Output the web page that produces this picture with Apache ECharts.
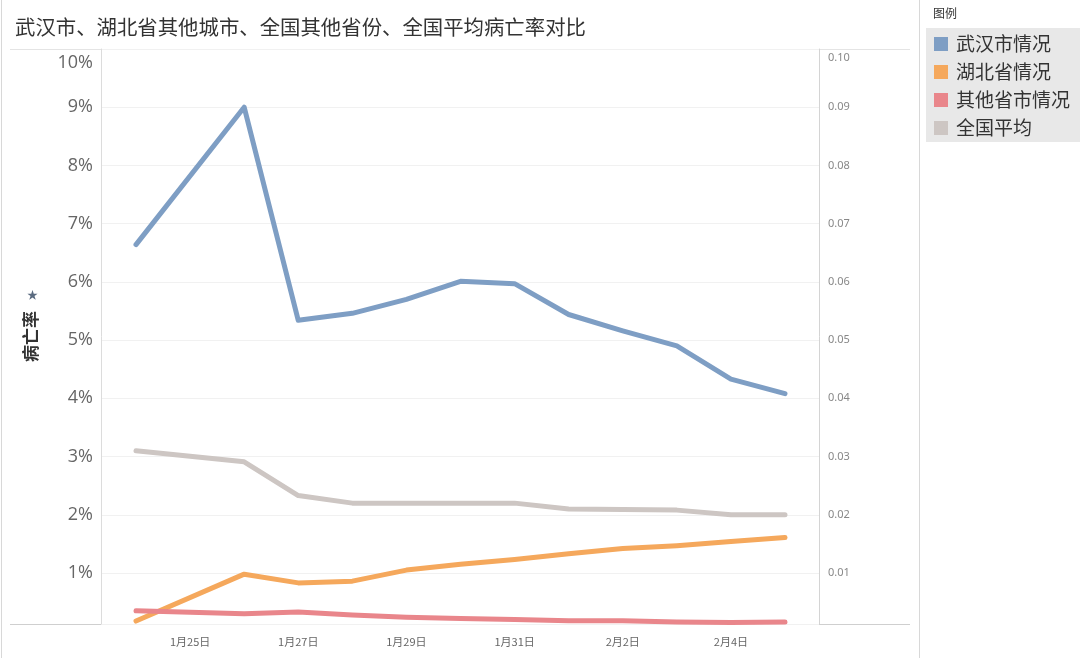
<!DOCTYPE html>
<html>
<head>
<meta charset="utf-8">
<script src="https://cdn.jsdelivr.net/npm/echarts@6/dist/echarts.min.js"></script>
<style>
  html, body { margin: 0; padding: 0; background: #fff; }
  #chart { width: 1080px; height: 658px; }
</style>
</head>
<body>
<div id="chart"></div>
<script>
// dates 1/24 .. 2/5 (1/25 has no value in the source, line jumps over it)
const dates = ['1月24日', '1月25日', '1月26日', '1月27日', '1月28日', '1月29日', '1月30日',
  '1月31日', '2月1日', '2月2日', '2月3日', '2月4日', '2月5日']

const wuhan = [0.0664, null, 0.0900, 0.0534, 0.0546, 0.0570, 0.0601, 0.0597, 0.0544, 0.0516, 0.0490, 0.0433, 0.0408]
const hubei = [0.00175, null, 0.0098, 0.0083, 0.0086, 0.0105, 0.0115, 0.0123, 0.0133, 0.0142, 0.0147, 0.0154, 0.0161]
const others = [0.0035, null, 0.0030, 0.0033, 0.0028, 0.0024, 0.0022, 0.0020, 0.0018, 0.0018, 0.0016, 0.0015, 0.0016]
const national = [0.0310, null, 0.0291, 0.0233, 0.0220, 0.0220, 0.0220, 0.0220, 0.0210, 0.0209, 0.0208, 0.0200, 0.0200]

const seriesNames = ['武汉市情况', '湖北省情况', '其他省市情况', '全国平均']
const colors = ['#7e9ec4', '#f5a85c', '#e9868b', '#cdc6c3']

const yMin = 0.00124
const yMax = 0.1

const font = '"Noto Sans CJK SC", "Noto Sans", sans-serif'

function makeLine(name, data, color) {
  return {
    name: name,
    type: 'line',
    data: data,
    xAxisIndex: 1,
    yAxisIndex: 2,
    connectNulls: true,
    showSymbol: false,
    clip: false,
    color: color,
    lineStyle: { width: 5, color: color, cap: 'round', join: 'round' }
  }
}

var chartDom = document.getElementById('chart')
var myChart = echarts.init(chartDom)
var option = {
  animation: false,
  color: colors,
  title: {
    text: '武汉市、湖北省其他城市、全国其他省份、全国平均病亡率对比',
    left: 10,
    top: 12,
    textStyle: { fontFamily: font, fontSize: 20.4, fontWeight: 'normal', color: '#333' }
  },
  legend: {
    orient: 'vertical',
    left: 926,
    top: 28,
    padding: [6, 30, 4, 8],
    backgroundColor: '#e8e8e8',
    icon: 'rect',
    itemWidth: 14,
    itemHeight: 14,
    itemGap: 8,
    data: seriesNames,
    textStyle: { fontFamily: font, fontSize: 19, color: '#333', lineHeight: 20, padding: [0, 0, 0, 3] }
  },
  grid: [
    { left: 101, right: 261, top: 49, bottom: 34 },
    { left: 136, right: 295, top: 49, bottom: 34 }
  ],
  xAxis: [
    { type: 'category', gridIndex: 0, data: dates, show: false },
    {
      type: 'category',
      gridIndex: 1,
      data: dates,
      boundaryGap: false,
      axisLine: { show: false },
      axisTick: { show: false },
      axisLabel: {
        interval: (idx) => idx % 2 === 1,
        margin: 12,
        fontFamily: font,
        fontSize: 11,
        color: '#666'
      }
    }
  ],
  yAxis: [
    {
      type: 'value',
      gridIndex: 0,
      position: 'left',
      min: yMin,
      max: yMax,
      splitNumber: 10,
      name: '病亡率',
      nameLocation: 'middle',
      nameRotate: 90,
      nameGap: 62,
      nameTextStyle: { fontFamily: font, fontSize: 17, fontWeight: 'bold', color: '#333' },
      axisLine: { show: true, lineStyle: { color: '#dcdcdc' } },
      axisTick: { show: false },
      splitLine: { show: true, lineStyle: { color: '#f1f1f1' } },
      axisLabel: {
        showMinLabel: false,
        verticalAlignMaxLabel: 'top',
        margin: 8,
        fontFamily: '"Open Sans", "Noto Sans", sans-serif',
        fontSize: 18,
        color: '#666',
        formatter: (v) => v >= yMax ? '{top|' + Math.round(v * 100) + '%}' : Math.round(v * 100) + '%',
        rich: {
          top: { fontFamily: '"Open Sans", "Noto Sans", sans-serif', fontSize: 18, color: '#666', padding: [5, 0, 0, 0] }
        }
      }
    },
    {
      type: 'value',
      gridIndex: 0,
      position: 'right',
      min: yMin,
      max: yMax,
      splitNumber: 10,
      axisLine: { show: true, lineStyle: { color: '#d4d4d4' } },
      axisTick: { show: false },
      splitLine: { show: false },
      axisLabel: {
        showMinLabel: false,
        verticalAlignMaxLabel: 'top',
        margin: 9,
        fontFamily: '"Noto Sans", sans-serif',
        fontSize: 11,
        color: '#888',
        formatter: (v) => v >= yMax ? '{top|' + v.toFixed(2) + '}' : v.toFixed(2),
        rich: {
          top: { fontFamily: '"Noto Sans", sans-serif', fontSize: 11, color: '#888', padding: [3, 0, 0, 0] }
        }
      }
    },
    { type: 'value', gridIndex: 1, min: yMin, max: yMax, show: false, splitLine: { show: false } }
  ],
  graphic: [
    { type: 'line', shape: { x1: 10, y1: 49.5, x2: 910, y2: 49.5 }, style: { stroke: '#e4e4e4', lineWidth: 1 }, silent: true },
    { type: 'line', shape: { x1: 10, y1: 624.5, x2: 910, y2: 624.5 }, style: { stroke: '#cfcfcf', lineWidth: 1 }, silent: true },
    { type: 'line', shape: { x1: 1.5, y1: 0, x2: 1.5, y2: 658 }, style: { stroke: '#d8d8d8', lineWidth: 1 }, silent: true },
    { type: 'line', shape: { x1: 919.5, y1: 0, x2: 919.5, y2: 658 }, style: { stroke: '#d8d8d8', lineWidth: 1 }, silent: true },
    { type: 'text', left: 933, top: 7, style: { text: '图例', fontFamily: font, fontSize: 12, fill: '#333' } },
    { type: 'text', x: 27, y: 289, style: { text: '★', fontFamily: font, fontSize: 11, fill: '#5b6b80' } }
  ],
  series: [
    makeLine(seriesNames[0], wuhan, colors[0]),
    makeLine(seriesNames[1], hubei, colors[1]),
    makeLine(seriesNames[2], others, colors[2]),
    makeLine(seriesNames[3], national, colors[3])
  ]
}
myChart.setOption(option)
window.onresize = function () {
  myChart.resize()
}
</script>
</body>
</html>
